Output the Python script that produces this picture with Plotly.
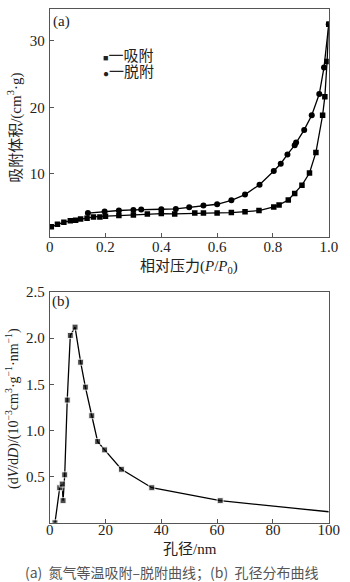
import plotly.graph_objects as go

# ---- data: (a) N2 adsorption/desorption isotherm ----
ads_p = [0.006, 0.028, 0.051, 0.074, 0.093, 0.111, 0.134, 0.157, 0.18, 0.20, 0.248, 0.30,
         0.35, 0.40, 0.448, 0.52, 0.551, 0.60, 0.651, 0.70, 0.75, 0.803, 0.822, 0.855,
         0.878, 0.904, 0.931, 0.954, 0.978, 0.986, 0.994, 1.0]
ads_v = [2.0, 2.4, 2.7, 2.9, 3.0, 3.2, 3.3, 3.5, 3.5, 3.6, 3.7, 3.8,
         3.95, 4.0, 3.95, 4.07, 4.07, 4.1, 4.15, 4.26, 4.45, 5.0, 5.3, 6.04,
         7.03, 8.27, 10.1, 13.2, 18.8, 21.6, 26.9, 32.5]
des_p = [1.0, 0.983, 0.966, 0.939, 0.912, 0.883, 0.878, 0.852, 0.828, 0.803, 0.752, 0.70,
         0.651, 0.60, 0.551, 0.50, 0.452, 0.40, 0.328, 0.30, 0.248, 0.197, 0.137]
des_v = [32.5, 26.0, 22.0, 18.8, 16.6, 14.7, 14.3, 12.9, 11.5, 10.4, 8.35, 6.86,
         6.0, 5.4, 5.2, 4.96, 4.7, 4.65, 4.62, 4.55, 4.46, 4.3, 4.07]

# ---- data: (b) pore size distribution ----
pore_d = [1.9, 3.6, 4.5, 4.8, 5.4, 6.3, 7.4, 9.1, 11.1, 12.8, 15.1, 17.2, 19.7, 25.7, 36.6, 61.1, 100]
pore_v = [0.0, 0.38, 0.42, 0.24, 0.52, 1.33, 2.03, 2.12, 1.74, 1.47, 1.16, 0.88, 0.79, 0.58, 0.38, 0.24, 0.12]
pore_marker = [6] * (len(pore_d) - 1) + [0]

xa_ticks = [0, 0.2, 0.4, 0.6, 0.8, 1.0]
xa_labels = ["0", "0.2", "0.4", "0.6", "0.8", "1.0"]
ya_ticks = [10, 20, 30]
xb_ticks = [0, 20, 40, 60, 80, 100]
yb_ticks = [0.5, 1.0, 1.5, 2.0, 2.5]
yb_labels = ["0.5", "1.0", "1.5", "2.0", "2.5"]

W, H = 350, 582
FONT = "'Times New Roman', 'Liberation Serif', 'Noto Sans CJK SC', serif"
CJK = "'Noto Sans CJK SC', 'Liberation Serif', sans-serif"

def px(x):
    return x / W

def py(y):
    return 1 - y / H

fig = go.Figure()
fig.add_trace(go.Scatter(x=ads_p, y=ads_v, mode="lines+markers", name="吸附",
                         line=dict(color="black", width=1.3),
                         marker=dict(symbol="square", size=5.5, color="black"),
                         xaxis="x", yaxis="y", showlegend=False))
fig.add_trace(go.Scatter(x=des_p, y=des_v, mode="lines+markers", name="脱附",
                         line=dict(color="black", width=1.3),
                         marker=dict(symbol="circle", size=6, color="black"),
                         xaxis="x", yaxis="y", showlegend=False))
fig.add_trace(go.Scatter(x=pore_d, y=pore_v, mode="lines+markers", name="孔径分布",
                         line=dict(color="black", width=1.3),
                         marker=dict(symbol="square", size=pore_marker, color="black"),
                         xaxis="x2", yaxis="y2", showlegend=False))

xdom = [px(47.7), px(339.3)]
axis_common = dict(showline=True, linecolor="#555", linewidth=1, mirror=True,
                   ticks="inside", ticklen=4, tickcolor="#555", tickwidth=1,
                   showgrid=False, zeroline=False,
                   tickfont=dict(family=FONT, size=15, color="#222"))

fig.update_layout(
    width=W, height=H,
    margin=dict(l=0, r=0, t=0, b=0),
    paper_bgcolor="white", plot_bgcolor="white",
    xaxis=dict(domain=xdom, range=[0, 1.0], tickvals=xa_ticks, ticktext=xa_labels,
               anchor="y", ticklabelstandoff=-4, **axis_common),
    yaxis=dict(domain=[py(232), py(1)], range=[0.5, 34.8], tickvals=ya_ticks,
               anchor="x", ticklabelstandoff=1, **axis_common),
    xaxis2=dict(domain=xdom, range=[0, 100], tickvals=xb_ticks,
                anchor="y2", ticklabelstandoff=-7, **axis_common),
    yaxis2=dict(domain=[py(522), py(288)], range=[0, 2.5], tickvals=yb_ticks, ticktext=yb_labels,
                anchor="x2", ticklabelstandoff=1, **axis_common),
)

ann = []
def add(text, x, y, size=15, angle=0, color="#222", family=FONT, xanchor="center"):
    ann.append(dict(text=text, x=px(x), y=py(y), xref="paper", yref="paper",
                    xanchor=xanchor, yanchor="middle", showarrow=False, textangle=angle,
                    font=dict(family=family, size=size, color=color)))

add("相对压力(<i>P</i>/<i>P</i><sub>0</sub>)", 193, 263)
add("孔径/nm", 194, 549)
add("吸附体积/(cm<sup>3</sup>·g)", 11, 122, angle=-90)
add("(d<i>V</i>/d<i>D</i>)/(10<sup>−3</sup>cm<sup>3</sup>·g<sup>−1</sup>·nm<sup>−1</sup>)", 9, 406, size=14, angle=-90)
add("(a)", 60, 14, size=15)
add("(b)", 60, 298, size=15)
add("<span style='font-size:9px'>■</span>一吸附", 101, 49, size=15, xanchor="left")
add("<span style='font-size:10px'>●</span>一脱附", 101, 65, size=15, xanchor="left")
add("(a)  氮气等温吸附–脱附曲线；(b)  孔径分布曲线", 176, 572, size=14, color="#555", family=CJK)

fig.update_layout(annotations=ann)
fig.write_html("out.html")
